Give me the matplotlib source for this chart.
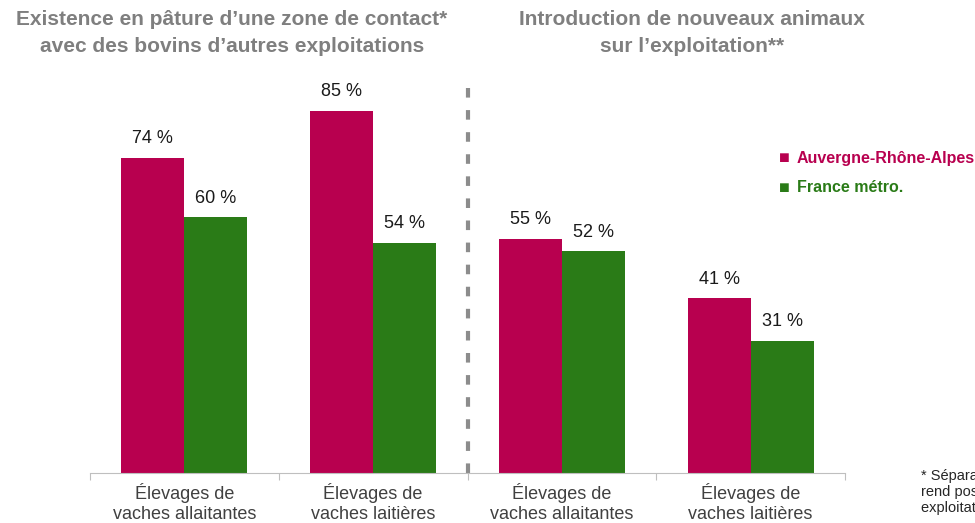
import matplotlib
matplotlib.use("Agg")
import numpy as np
from matplotlib import pyplot as plt

plt.rcParams['font.family'] = ['Liberation Sans', 'DejaVu Sans']

categories = ["Élevages de\nvaches allaitantes", "Élevages de\nvaches laitières",
              "Élevages de\nvaches allaitantes", "Élevages de\nvaches laitières"]
ara = [74, 85, 55, 41]
france = [60, 54, 52, 31]
series_names = ["Auvergne-Rhône-Alpes", "France métro."]
titles = ["Existence en pâture d\u2019une zone de contact*\navec des bovins d\u2019autres exploitations",
          "Introduction de nouveaux animaux\nsur l\u2019exploitation**"]
footnote = "* Séparation simple\nrend possible le contact\nexploitations voisines"

red = "#B8004F"
green = "#2A7B17"
gray_title = "#7F7F7F"

W, H = 975, 523
fig = plt.figure(figsize=(W/100, H/100), dpi=100)
ax = fig.add_axes([90/W, (H-473)/H, 755/W, 426/H])

x = np.arange(len(categories))
bw = 1/3
ax.bar(x - bw/2, ara, bw, color=red)
ax.bar(x + bw/2, france, bw, color=green)
for xi, v in zip(x, ara):
    ax.text(xi - bw/2, v + 2.5, f"{v} %", ha="center", va="bottom", fontsize=13, color="#1a1a1a")
for xi, v in zip(x, france):
    ax.text(xi + bw/2, v + 2.5, f"{v} %", ha="center", va="bottom", fontsize=13, color="#1a1a1a")

ax.set_xlim(-0.5, 3.5)
ax.set_ylim(0, 100)
ax.set_yticks([])
for s in ["top", "right", "left"]:
    ax.spines[s].set_visible(False)
ax.spines["bottom"].set_color("#BFBFBF")
ax.set_xticks(np.arange(-0.5, 4, 1))
ax.set_xticklabels([])
ax.tick_params(axis="x", length=5, color="#BFBFBF")
for xi, lab in zip(x, categories):
    ax.text(xi, -2.4, lab, ha="center", va="top", fontsize=13, color="#404040",
            linespacing=1.25)

ax.plot([1.5, 1.5], [0, 91.5], color="#8C8C8C", lw=3, ls=(0, (2.3, 3)), clip_on=False)

fig.text(232/W, 1 - 33/H, titles[0], ha="center", va="center", fontsize=15,
         fontweight="bold", color=gray_title, linespacing=1.5)
fig.text(692/W, 1 - 33/H, titles[1], ha="center", va="center", fontsize=15,
         fontweight="bold", color=gray_title, linespacing=1.5)

for i, (name, c) in enumerate(zip(series_names, [red, green])):
    yy = 1 - (158 + 30*i)/H
    fig.text(784/W, yy, "\u25A0", ha="center", va="center", fontsize=13, color=c)
    fig.text(797/W, yy, name, ha="left", va="center", fontsize=11.5,
             fontweight="bold", color=c)

fig.text(921/W, 1 - 469/H, footnote, ha="left", va="top", fontsize=10.5,
         color="#262626", linespacing=1.2)

fig.savefig("out.png", dpi=100)
